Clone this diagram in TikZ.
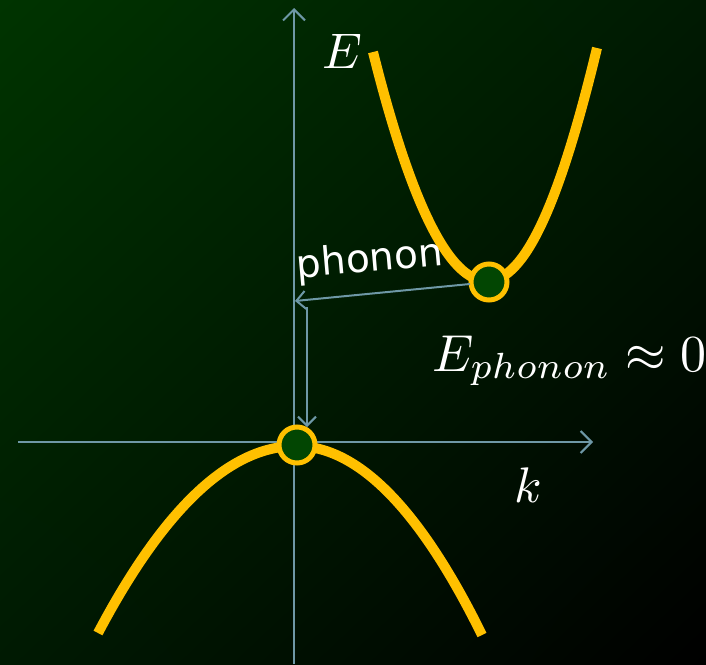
\documentclass[tikz,border=0pt]{standalone}
\usepackage{graphicx}
\usepackage{fontspec}
\newfontfamily\phfont{DejaVu Sans}
\usetikzlibrary{arrows.meta,shadings}
\definecolor{bgA}{RGB}{0,52,0}
\definecolor{bgM}{RGB}{0,26,2}
\definecolor{axc}{RGB}{110,152,166}
\definecolor{yel}{RGB}{255,192,0}
\definecolor{dotg}{RGB}{2,70,2}
\newcommand{\hugemath}[1]{\scalebox{5}{$#1$}}
\tikzset{
  axis/.style={draw=axc, line width=2pt, -{Straight Barb[length=11pt,width=22pt,line width=2pt]}},
  parr/.style={draw=axc, line width=2pt, -{Straight Barb[length=9pt,width=18pt,line width=2pt]}},
  band/.style={draw=yel, line width=10pt},
  dot/.style={circle, draw=yel, fill=dotg, line width=5pt, minimum size=36pt, inner sep=0pt},
  mlab/.style={text=white, inner sep=0pt},
}
\begin{document}
\begin{tikzpicture}[x=1pt,y=-1pt]
\useasboundingbox (0,0) rectangle (706,664);
\shade[upper left=bgA, lower right=black, upper right=bgM, lower left=bgM] (0,0) rectangle (706,664);
% axes
\coordinate (vb) at (294,664);
\coordinate (vt) at (294,8);
\coordinate (hl) at (18,442);
\coordinate (hr) at (593,442);
\draw[axis] (vb) -- (vt);
\draw[axis] (hl) -- (hr);
% bands
\coordinate (ul) at (373,52);
\coordinate (um) at (487,281);
\coordinate (ur) at (597,48);
\draw[band] (ul) .. controls (411,204) and (449,281) .. (um) .. controls (525,281) and (560,202) .. (ur);
\coordinate (ll) at (98,633);
\coordinate (lm) at (296,446);
\coordinate (lr) at (482,635);
\draw[band] (ll) .. controls (164,508) and (230,446) .. (lm) .. controls (358,446) and (420,509) .. (lr);
% dots
\node[dot] (cu) at (489,282) {};
\node[dot] (cl) at (297,445) {};
% phonon arrows
\coordinate (ps) at (470,284);
\coordinate (pe) at (295,301);
\draw[parr] (ps) -- (pe);
\coordinate (ds) at (307,307);
\coordinate (de) at (307,427);
\draw[parr] (ds) -- (de);
\node[text=white, rotate=5, inner sep=0pt, font=\phfont\fontsize{39}{46}\selectfont] (ph) at (370,261) {phonon};
% labels
\node[mlab, anchor=base west] (E) at (322,68) {\hugemath{E}};
\node[mlab, anchor=base west] (k) at (514,502) {\hugemath{k}};
\node[mlab, anchor=base west] (Ep) at (432,371) {\scalebox{1.04}{\hugemath{E_{phonon}\approx 0}}};
\end{tikzpicture}
\end{document}
